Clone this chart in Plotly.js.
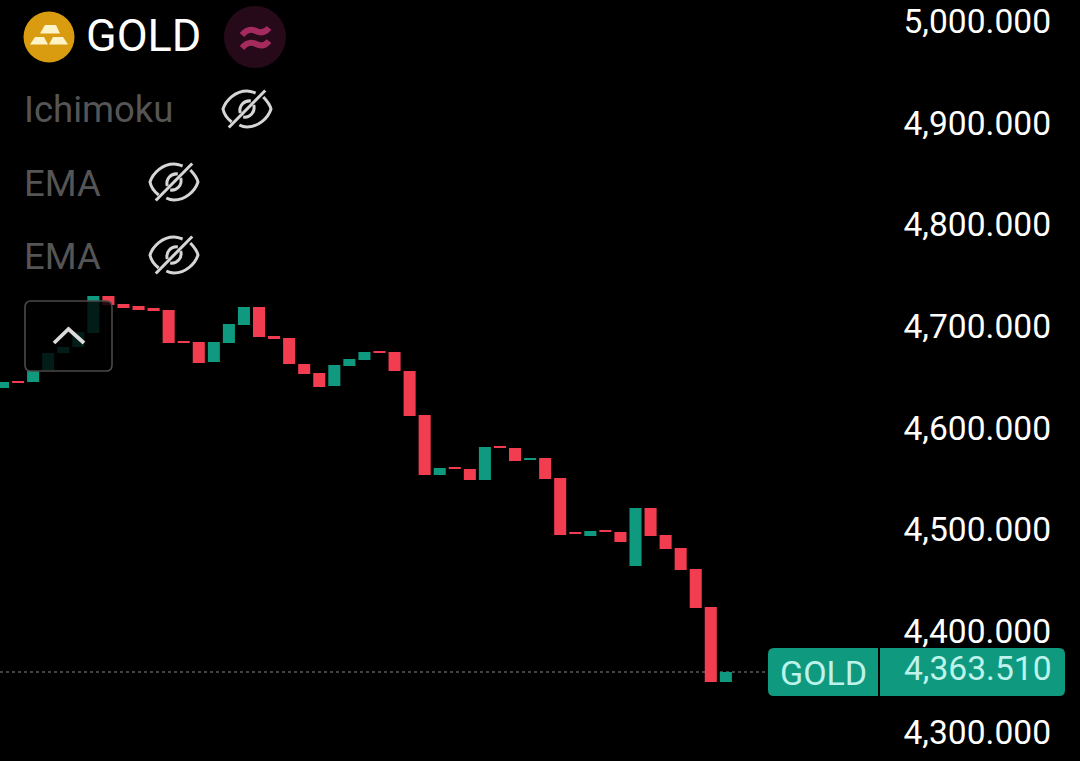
<!DOCTYPE html>
<html><head><meta charset="utf-8">
<script src="https://cdn.plot.ly/plotly-3.0.1.min.js"></script>
<style>html,body{margin:0;padding:0;background:#000;overflow:hidden}#c{width:1080px;height:761px}</style>
</head><body><div id="c"></div>
<script>
const opens  = [4643.1,4650.0,4649.0,4660.8,4677.6,4683.5,4697.3,4733.7,4725.8,4723.8,4721.9,4719.9,4689.4,4688.4,4668.7,4687.4,4705.1,4722.8,4694.3,4692.3,4666.7,4657.9,4645.1,4664.8,4670.7,4679.5,4678.5,4659.8,4616.5,4557.4,4565.3,4563.4,4552.5,4586.0,4584.0,4572.2,4574.2,4554.5,4501.3,4497.4,4503.3,4501.3,4467.9,4525.0,4498.4,4485.6,4464.9,4427.5,4353.6];
const closes = [4649.0,4648.0,4659.8,4677.6,4683.5,4698.2,4733.7,4724.8,4721.9,4719.9,4718.9,4687.4,4687.4,4667.7,4688.4,4706.1,4722.8,4693.3,4691.3,4666.7,4656.9,4644.1,4665.7,4671.7,4678.5,4677.6,4659.8,4615.5,4557.4,4564.3,4563.4,4552.5,4585.0,4584.0,4571.2,4574.2,4553.5,4498.4,4499.4,4502.3,4501.3,4491.5,4525.0,4497.4,4484.6,4463.9,4426.5,4353.6,4363.51];
const tickVals = [5000,4900,4800,4700,4600,4500,4400,4300];
const tickLabels = ["5,000.000","4,900.000","4,800.000","4,700.000","4,600.000","4,500.000","4,400.000","4,300.000"];
const lastPrice = 4363.51;
const symbol = "GOLD", priceLabel = "4,363.510";
const indicators = ["Ichimoku","EMA","EMA"];

const idx = closes.map((_,i)=>i);
const highs = opens.map((o,i)=>Math.max(o,closes[i]));
const lows  = opens.map((o,i)=>Math.min(o,closes[i]));
const W=1080,H=761,R=26,PW=W-R;
const px=x=>x/PW, py=y=>1-y/H;
const path=s=>s.replace(/(-?\d+\.?\d*),(-?\d+\.?\d*)/g,(m,a,b)=>px(+a).toFixed(5)+','+py(+b).toFixed(5));
const shp=(d,o)=>Object.assign({type:'path',xref:'paper',yref:'paper',path:path(d),line:{width:0}},o||{});
const RED='#F23C50',TEAL='#0F9A80';

function eye(cx,cy){
  const P=(x,y)=>(cx+x*0.96)+','+(cy+y);
  const st={line:{color:'#d6d6d6',width:3}};
  return [
   shp(`M${P(-16,13)} C${P(-20,10)} ${P(-24,5)} ${P(-25,0)} C${P(-22,-9)} ${P(-12,-18)} ${P(0,-18)} C${P(3,-18)} ${P(6,-17)} ${P(9,-16)}`,st),
   shp(`M${P(17,-12)} C${P(20,-9)} ${P(24,-4)} ${P(25,0)} C${P(22,9)} ${P(12,18)} ${P(0,18)} C${P(-3,18)} ${P(-6,17)} ${P(-8,16)}`,st),
   shp(`M${P(-19,18.5)} L${P(19,-18.5)}`,st),
   shp(`M${P(-7,4)} C${P(-9,-3)} ${P(-3,-9)} ${P(4,-8)}`,st),
   shp(`M${P(7,-4)} C${P(9,3)} ${P(3,9)} ${P(-4,8)}`,st)
  ];
}
const r5=(x0,y0,x1,y1,r)=>`M${x0+r},${y0} L${x1-r},${y0} Q${x1},${y0} ${x1},${y0+r} L${x1},${y1-r} Q${x1},${y1} ${x1-r},${y1} L${x0+r},${y1} Q${x0},${y1} ${x0},${y1-r} L${x0},${y0+r} Q${x0},${y0} ${x0+r},${y0} Z`;
const circ=(cx,cy,r,c)=>({type:'circle',xref:'paper',yref:'paper',x0:px(cx-r),x1:px(cx+r),y0:py(cy+r),y1:py(cy-r),fillcolor:c,line:{width:0}});

const shapes=[
 {type:'line',xref:'paper',yref:'y',x0:0,x1:px(768),y0:lastPrice,y1:lastPrice,line:{color:'#8a8a8a',width:1.2,dash:'dot'},layer:'below'},
 shp(r5(25,301,112,371,6),{fillcolor:'rgba(0,0,0,0.82)',line:{color:'#4a4a4a',width:1.6}}),
 shp('M54,343 L68.5,329 L84,343',{line:{color:'#dcdcdc',width:3.8}}),
 circ(49,37,25.5,'#D99C10'),
 shp('M45,25 L56,25 L60,33.5 L40,33.5 Z',{fillcolor:'#FFF3C8'}),
 shp('M35,37 L44,37 L48,44.5 L30,44.5 Z',{fillcolor:'#FFF3C8'}),
 shp('M53,37 L63,37 L68,44.5 L49,44.5 Z',{fillcolor:'#FFF3C8'}),
 circ(255,37,31,'#260A1A'),
 shp('M242,35 C247,29 252,29 256,31 C260,33 265,33 269,28',{line:{color:'#A52A5E',width:6}}),
 shp('M242,48 C247,42 252,42 256,44 C260,46 265,46 269,41',{line:{color:'#A52A5E',width:6}}),
 ...eye(247,109),...eye(174,182),...eye(174,255),
 shp(r5(768,648,1065,696,6),{fillcolor:TEAL}),
 shp('M879,648 L879,696',{line:{color:'#000',width:2}})
];
const ann=(t,x,y,size,color,anchor)=>({text:t,xref:'paper',yref:'paper',x:px(x),y:py(y),xanchor:anchor||'left',yanchor:'middle',showarrow:false,borderpad:0,font:{family:'Roboto',size,color}});
const annotations=[
 ann(symbol,85,36,45,'#ffffff'),
 ann(indicators[0],23,109,36.5,'#555555'),
 ann(indicators[1],23,183,36.5,'#555555'),
 ann(indicators[2],23,256.5,36.5,'#555555'),
 ann(symbol,823,673,34,'#BDF3EA','center'),
 ann(priceLabel,1053,668,33.6,'#BDF3EA','right')
];

Plotly.newPlot('c',[{
  type:'candlestick',x:idx,open:opens,high:highs,low:lows,close:closes,
  increasing:{line:{color:TEAL,width:0},fillcolor:TEAL},
  decreasing:{line:{color:RED,width:0},fillcolor:RED},
  whiskerwidth:0,hoverinfo:'skip'
}],{
  width:W,height:H,margin:{l:0,r:R,t:0,b:0,pad:0},
  paper_bgcolor:'#000',plot_bgcolor:'#000',showlegend:false,
  boxgap:0.2,boxgroupgap:0,
  xaxis:{range:[-0.2,69.79],visible:false,rangeslider:{visible:false},fixedrange:true},
  yaxis:{range:[4275.9,5025.1],side:'right',ticklabelposition:'inside',tickmode:'array',tickvals:tickVals,ticktext:tickLabels,
    ticks:'',showgrid:false,zeroline:false,showline:false,ticklabelshift:-4,
    tickfont:{family:'Roboto',size:33.6,color:'#ffffff'},fixedrange:true},
  shapes,annotations
},{displayModeBar:false,staticPlot:true});
</script></body></html>
